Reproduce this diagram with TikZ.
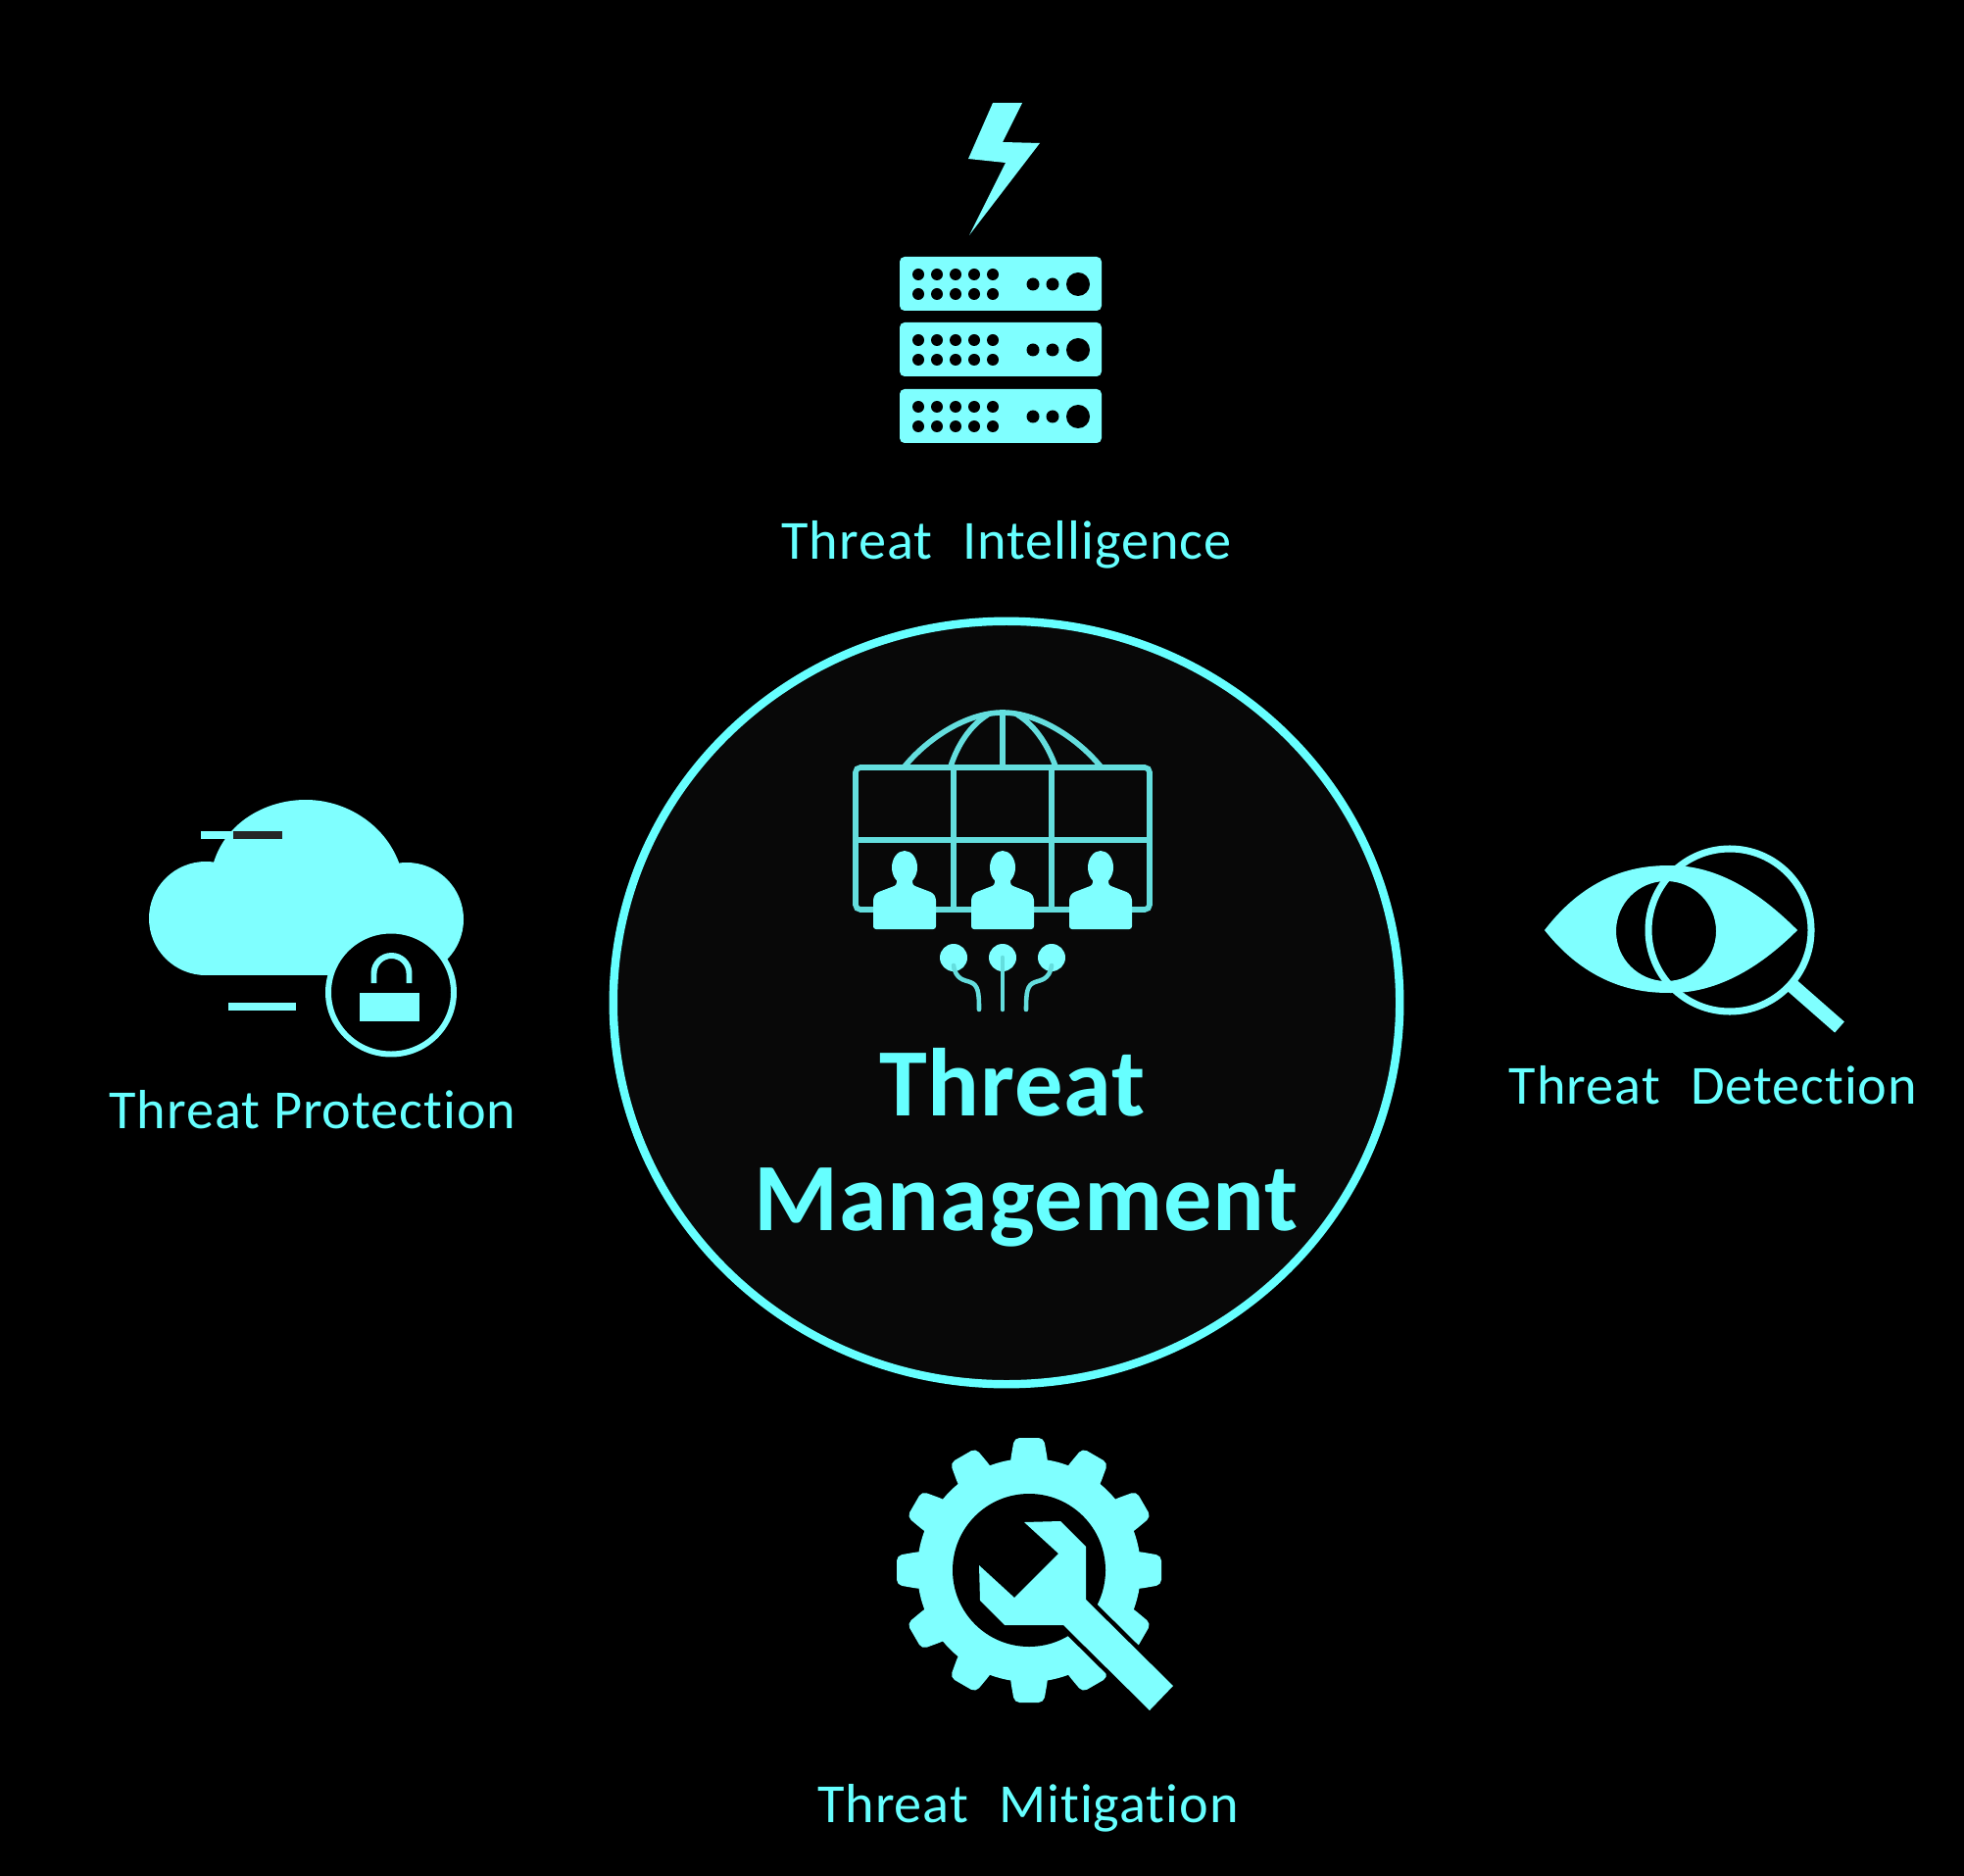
\documentclass[tikz,border=0pt]{standalone}
\usepackage{fontspec}
\newfontfamily\captionfont[Ligatures=NoCommon,LetterSpace=1.7]{Carlito}
\newfontfamily\titlefont[Ligatures=NoCommon,LetterSpace=1]{Carlito}
\newcommand{\wordgap}{\ \ \hspace{1.1pt}}
\definecolor{threatcyan}{RGB}{127,255,255}
\definecolor{threatline}{RGB}{100,222,222}
\definecolor{threattext}{RGB}{102,255,255}
\definecolor{hubfill}{RGB}{8,8,8}
\usetikzlibrary{positioning}
\usetikzlibrary{shapes.geometric}
\tikzset{
  icon/.style={fill=threatcyan},
  grid line/.style={draw=threatline,line width=1.6pt},
  wire/.style={draw=threatline,line width=1.3pt,line cap=round},
  caption/.style={text=threattext,font=\captionfont\fontsize{16}{19}\selectfont,inner sep=0pt,anchor=base},
  title/.style={text=threattext,font=\titlefont\fontsize{28}{33}\selectfont\bfseries,inner sep=0pt,anchor=base}
}
\begin{document}
\begin{tikzpicture}[x=0.01cm,y=-0.01cm]
  \useasboundingbox (0,0) rectangle (2004,1913);
  \fill [black] (-5,-5) rectangle (2009,1918);

  % intelligence
  \fill [icon] (1013,105) -- (1043,105) -- (1023,145) -- (1061,146) -- (989,240) -- (1026,166) -- (988,162) -- cycle;
  \foreach \top in {262,329,397} {
    \fill [icon,rounded corners=1.4pt] (918,\top) rectangle (1124,\top+55);
    \foreach \col in {937,956,975,994,1013} {
      \fill [black] (\col,\top+18) circle [radius=6];
      \fill [black] (\col,\top+38) circle [radius=6];
    }
    \fill [black] (1054,\top+28) circle [radius=6.5];
    \fill [black] (1074,\top+28) circle [radius=6.5];
    \fill [black] (1100,\top+28) circle [radius=12];
  }
  \node [caption] (intelligence) at (1027,571) {Threat\wordgap Intelligence};

  % hub
  \node [ellipse,draw=threattext,fill=hubfill,line width=2.4pt,minimum width=8.02cm,minimum height=7.78cm,inner sep=0pt] (hub) at (1027,1023) {};
  \draw [grid line] (923,782) .. controls (945,755) and (985,727) .. (1023,727) .. controls (1061,727) and (1101,755) .. (1123,782);
  \draw [grid line] (970,782) .. controls (977,760) and (990,740) .. (1008,729);
  \draw [grid line] (1077,782) .. controls (1069,760) and (1056,740) .. (1038,729);
  \draw [grid line] (1023,727) -- (1023,782);
  \draw [grid line,rounded corners=1.4pt] (873,783) rectangle (1173,928);
  \draw [grid line] (973,783) -- (973,928) (1073,783) -- (1073,928) (873,857) -- (1173,857);
  \foreach \man in {923,1023,1123} {
    \fill [icon] (\man,885) ellipse [x radius=13,y radius=17];
    \fill [icon,rounded corners=0.8pt] (\man-8,892) -- (\man-8,903) -- (\man-29,911) -- (\man-32,916) -- (\man-32,948) -- (\man+32,948) -- (\man+32,916) -- (\man+29,911) -- (\man+8,903) -- (\man+8,892) -- cycle;
  }
  \foreach \pin in {973,1023,1073}
    \fill [icon] (\pin,977) circle [radius=14];
  \draw [wire] (1023,977) -- (1023,1030);
  \draw [wire] (973,985) .. controls (975,1000) and (985,1000) .. (990,1002) .. controls (998,1005) and (999,1012) .. (999,1030);
  \draw [wire] (1073,985) .. controls (1071,1000) and (1061,1000) .. (1056,1002) .. controls (1048,1005) and (1047,1012) .. (1047,1030);
  \node [title] (threat) at (1033,1138) {Threat};
  \node [title] (management) at (1047,1255) {Management};

  % protection
  \fill [icon] (210,937) circle [radius=58];
  \fill [icon] (415,938) circle [radius=58];
  \fill [icon] (218,880) .. controls (230,840) and (270,816) .. (312,816) .. controls (352,816) and (392,840) .. (407,880) -- (407,960) -- (218,960) -- cycle;
  \fill [icon] (210,900) rectangle (415,995);
  \draw [threatcyan,line width=2pt] (205,852) -- (238,852);
  \draw [black!85,line width=2pt] (238,852) -- (288,852);
  \draw [threatcyan,line width=2.2pt] (233,1027) -- (302,1027);
  \draw [threatcyan,fill=black,line width=1.7pt] (399,1012.5) ellipse [x radius=64,y radius=63];
  \fill [icon] (367,1013) rectangle (428,1042);
  \draw [threatcyan,line width=1.7pt] (381.5,1003) -- (381.5,993) arc [start angle=180,end angle=360,radius=18] -- (417.5,1003);
  \node [caption] (protection) at (319,1151) {Threat Protection};

  % detection
  \fill [icon,even odd rule] (1576,949) .. controls (1625,885) and (1680,883) .. (1705,883) .. controls (1760,883) and (1805,920) .. (1834,949) .. controls (1805,978) and (1760,1013) .. (1705,1013) .. controls (1680,1013) and (1625,1011) .. (1576,949) -- cycle (1700,950) circle [radius=51];
  \draw [threatcyan,line width=2pt] (1765,949) circle [radius=83];
  \draw [threatcyan,line width=4.2pt] (1828,1005) -- (1877,1048);
  \node [caption] (detection) at (1748,1126) {Threat\wordgap Detection};

  % mitigation
  \fill [icon] (1050,1602) circle [radius=114];
  \foreach \a in {0,30,...,330}
    \fill [icon,rotate around={\a:(1050,1602)},rounded corners=1.5pt] (1031,1602) -- (1031,1490) -- (1035,1467) -- (1065,1467) -- (1069,1490) -- (1069,1602) -- cycle;
  \fill [black] (1050,1602) circle [radius=78];
  \path [icon,preaction={draw=black,line width=2.6pt}] (1045,1553) -- (1082,1552) -- (1108,1578) -- (1108,1632) -- (1197,1720) -- (1173,1745) -- (1085,1658) -- (1025,1658) -- (1000,1633) -- (999,1597) -- (1035,1630) -- (1080,1585) -- cycle;
  \node [caption] (mitigation) at (1049,1859) {Threat\wordgap Mitigation};
\end{tikzpicture}
\end{document}
